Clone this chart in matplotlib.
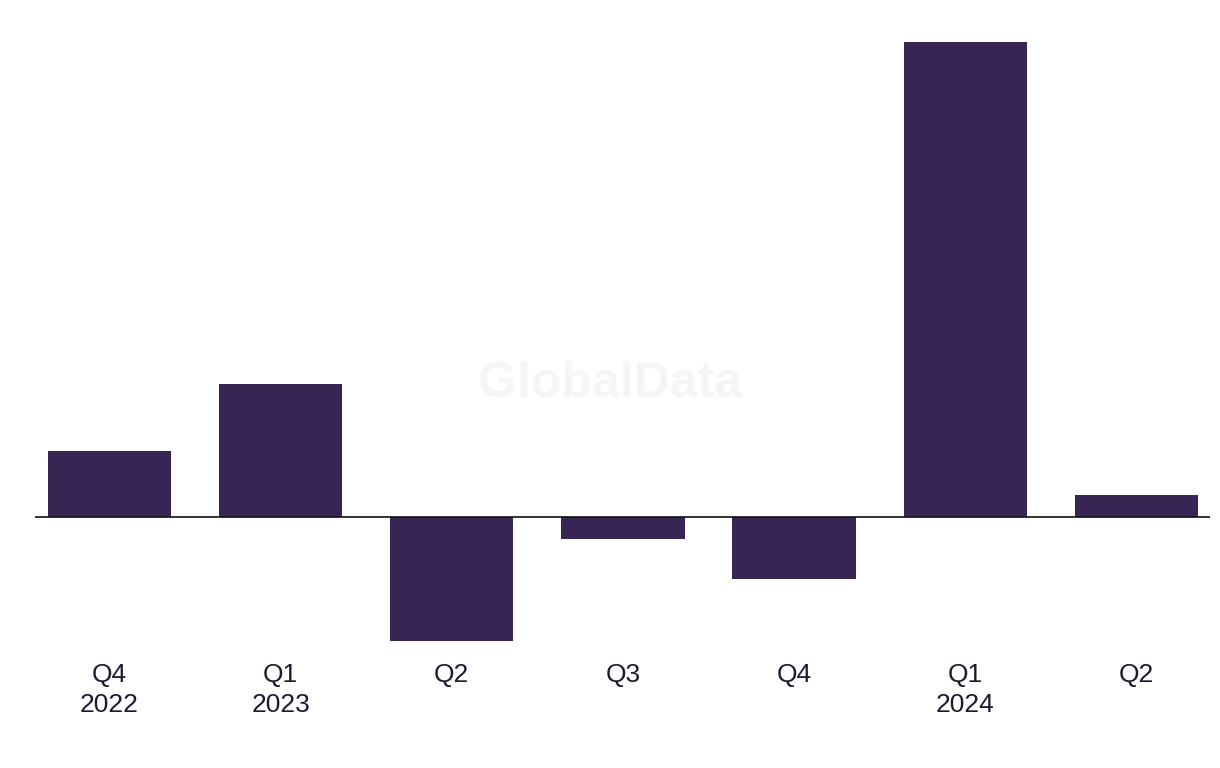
import matplotlib
matplotlib.use('Agg')
import matplotlib.pyplot as plt

# ── Data ─────────────────────────────────────────────────────
quarters = ["Q4", "Q1", "Q2", "Q3", "Q4", "Q1", "Q2"]
years    = ["2022", "2023", "", "", "", "2024", ""]
values   = [66, 133, -124, -22, -62, 475, 22]

labels = [f"{q}\n{y}" if y else q for q, y in zip(quarters, years)]
x = list(range(len(values)))

plt.rcParams['font.family'] = ['Liberation Sans', 'DejaVu Sans']

fig = plt.figure(figsize=(12.2, 7.68), dpi=100)
ax = fig.add_axes([35 / 1220, 1 - 641 / 768, 1175 / 1220, 599 / 768])

ax.bar(x, values, width=0.72, color='#372554', zorder=2)
ax.axhline(0, color='#111111', linewidth=1.2, zorder=3)

ax.set_xlim(-0.435, 6.43)
ax.set_ylim(-124, 475)
ax.set_xticks(x)
ax.set_xticklabels(labels, fontsize=19, color='#1c1c30', linespacing=1.32,
                   va='top')
ax.tick_params(axis='x', length=0, pad=16)
ax.set_yticks([])
for s in ax.spines.values():
    s.set_visible(False)

# watermark
fig.text(610 / 1220, 1 - 384 / 768, "GlobalData", fontsize=36, fontweight='bold',
         color='#f5f5f5', ha='center', va='center', zorder=0)

fig.savefig("out.png", dpi=100, facecolor='white')
plt.close()
